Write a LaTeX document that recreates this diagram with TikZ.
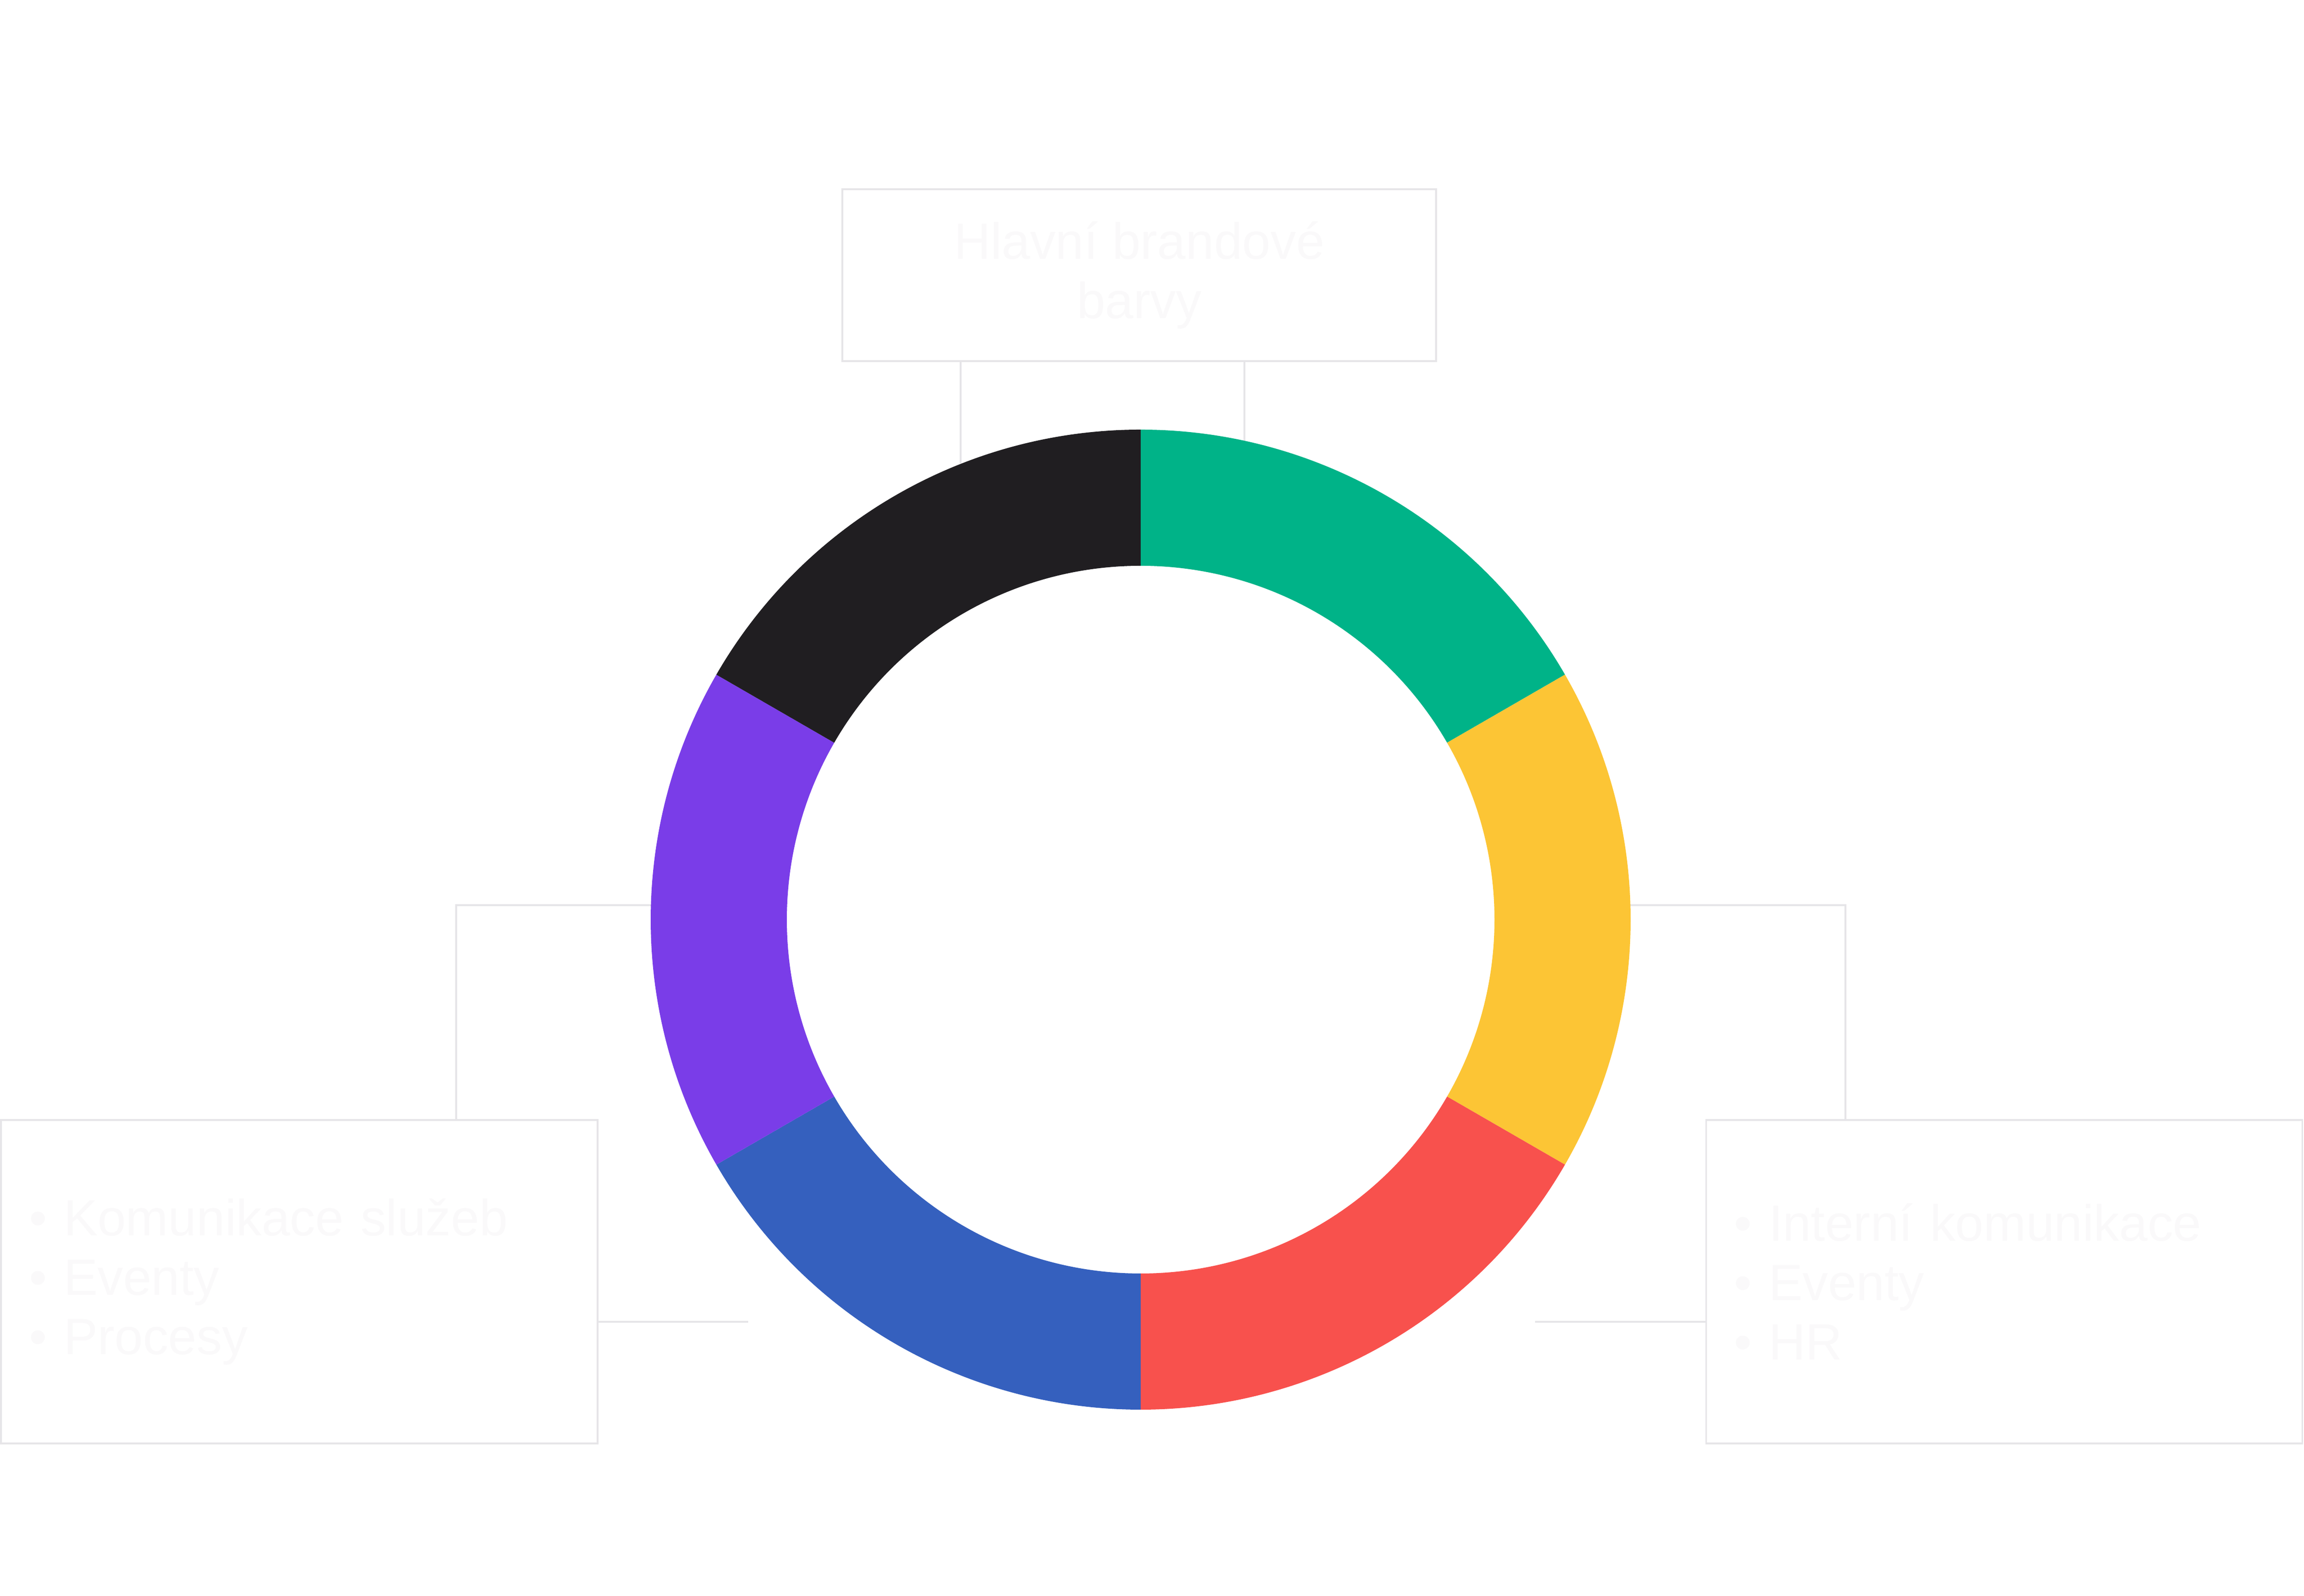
\documentclass[tikz,border=0pt]{standalone}
\usepackage{fontspec}
\setmainfont{Liberation Sans}
\usepackage{xcolor}
\usetikzlibrary{positioning}

\definecolor{lineGray}{HTML}{E6E5E8}
\definecolor{textFaint}{HTML}{FAF9FA}
\definecolor{brandGreen}{HTML}{00B388}
\definecolor{brandYellow}{HTML}{FCC535}
\definecolor{brandRed}{HTML}{F8514D}
\definecolor{brandBlue}{HTML}{3560BE}
\definecolor{brandPurple}{HTML}{7A3DE8}
\definecolor{brandBlack}{HTML}{201E21}

\tikzset{
    box/.style={draw=lineGray, line width=1pt, fill=white, text=textFaint,
        font=\fontsize{30}{35}\selectfont, inner sep=0pt},
    link/.style={draw=lineGray, line width=0.9pt}
}

\begin{document}
\begin{tikzpicture}
    \useasboundingbox (0,0) rectangle (47.73,33.06);

    \node[box, minimum width=12.3cm, minimum height=3.56cm, align=center] (top) at (23.60,27.36)
        {Hlavní brandové\\barvy};
    \node[box, minimum width=12.36cm, minimum height=6.7cm, text width=11.2cm, align=left] (left) at (6.20,6.51)
        {\textbullet\ Komunikace služeb\\\textbullet\ Eventy\\\textbullet\ Procesy};
    \node[box, minimum width=12.35cm, minimum height=6.7cm, text width=11.2cm, align=left] (right) at (41.52,6.51)
        {\textbullet\ Interní komunikace\\\textbullet\ Eventy\\\textbullet\ HR};

    % connectors behind the ring
    \coordinate (topA) at (19.90,23.46);
    \coordinate (topB) at (25.78,23.46);
    \coordinate (leftUp) at (9.45,14.31);
    \coordinate (leftMid) at (15.5,14.31);
    \coordinate (leftLow) at (15.5,5.68);
    \coordinate (rightUp) at (38.23,14.31);
    \coordinate (rightMid) at (31.8,14.31);
    \coordinate (rightLow) at (31.8,5.68);

    \draw[link] (top.south -| topA) -- (topA);
    \draw[link] (top.south -| topB) -- (topB);
    \draw[link] (left.north -| leftUp) |- (leftMid);
    \draw[link] (left.east |- leftLow) -- (leftLow);
    \draw[link] (right.north -| rightUp) |- (rightMid);
    \draw[link] (right.west |- rightLow) -- (rightLow);

    % colour ring
    \begin{scope}[shift={(23.63,14.01)}]
        \fill[white] (0,0) circle (7.33);
        \foreach \a/\b/\c in {90/30/brandGreen, 30/-30/brandYellow, -30/-90/brandRed,
                              -90/-150/brandBlue, -150/-210/brandPurple, 150/90/brandBlack}
            \fill[\c] (\a:10.15) arc[start angle=\a, end angle=\b, radius=10.15]
                -- (\b:7.33) arc[start angle=\b, end angle=\a, radius=7.33] -- cycle;
    \end{scope}
\end{tikzpicture}
\end{document}
